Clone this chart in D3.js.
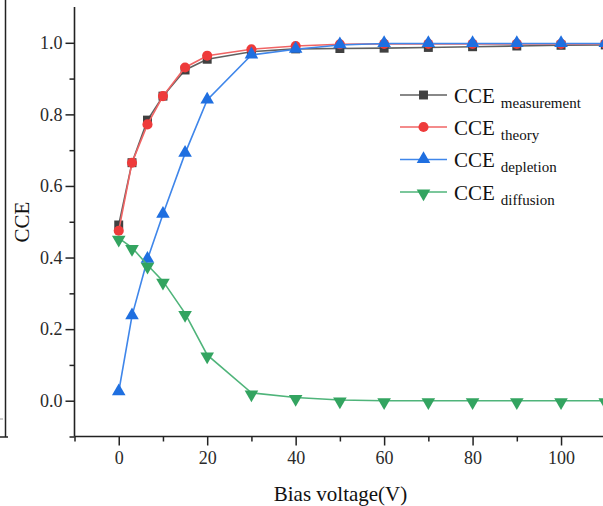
<!DOCTYPE html>
<html><head><meta charset="utf-8">
<script src="https://cdn.jsdelivr.net/npm/d3@7/dist/d3.min.js"></script>
<style>
html,body{margin:0;padding:0;background:#fff;}
svg{display:block;font-family:"Liberation Serif","Times New Roman",serif;}
</style></head>
<body><svg id="c" width="603" height="506"></svg>
<script>
const voltage = [0, 3, 6.5, 10, 15, 20, 30, 40, 50, 60, 70, 80, 90, 100, 110];
const cceMeasurement = [0.491, 0.665, 0.784, 0.851, 0.924, 0.954, 0.975, 0.983, 0.984, 0.985, 0.987, 0.989, 0.991, 0.993, 0.994];
const cceTheory      = [0.475, 0.665, 0.772, 0.851, 0.931, 0.964, 0.982, 0.991, 0.996, 0.997, 0.997, 0.997, 0.997, 0.997, 0.997];
const cceDepletion   = [0.025, 0.237, 0.395, 0.521, 0.691, 0.840, 0.966, 0.982, 0.994, 0.998, 0.998, 0.998, 0.998, 0.998, 0.998];
const cceDiffusion   = [0.454, 0.428, 0.379, 0.334, 0.244, 0.128, 0.022, 0.009, 0.002, 0.0, 0.0, 0.0, 0.0, 0.0, 0.0];
const seriesNames = ["measurement", "theory", "depletion", "diffusion"];
const yTickLabels = ["0.0", "0.2", "0.4", "0.6", "0.8", "1.0"];
const xTickLabels = ["0", "20", "40", "60", "80", "100"];

const svg = d3.select("#c");
const x = d3.scaleLinear().domain([-10, 120]).range([74.5, 649.5]);
const y = d3.scaleLinear().domain([-0.1, 1.1]).range([436.5, 7]);

const styles = [
  {line:"#606060", fill:"#404040", sym:d3.symbolSquare, size:80, rot:0},
  {line:"#f06464", fill:"#ee3b3b", sym:d3.symbolCircle, size:80, rot:0},
  {line:"#3f86ea", fill:"#1f6fe0", sym:d3.symbolTriangle, size:80, rot:0},
  {line:"#4fb47a", fill:"#33a460", sym:d3.symbolTriangle, size:80, rot:180}
];
const allSeries = [cceMeasurement, cceTheory, cceDepletion, cceDiffusion];

// partial left panel edge
svg.append("line").attr("x1",5.5).attr("x2",5.5).attr("y1",0).attr("y2",437).attr("stroke","#222").attr("stroke-width",1.5);
svg.append("line").attr("x1",0).attr("x2",8).attr("y1",437).attr("y2",437).attr("stroke","#222").attr("stroke-width",1.5);
svg.append("line").attr("x1",0).attr("x2",3).attr("y1",419).attr("y2",419).attr("stroke","#999").attr("stroke-width",1);

svg.append("defs").append("clipPath").attr("id","pc")
  .append("rect").attr("x",60).attr("y",0).attr("width",600).attr("height",445);

const g = svg.append("g").attr("clip-path","url(#pc)");
allSeries.forEach((vals, i) => {
  const st = styles[i];
  const pts = voltage.map((v, j) => [v, vals[j]]);
  g.append("path").attr("d", d3.line().x(d=>x(d[0])).y(d=>y(d[1]))(pts))
    .attr("fill","none").attr("stroke",st.line).attr("stroke-width",1.6);
  g.selectAll(null).data(pts).enter().append("path")
    .attr("d", d3.symbol().type(st.sym).size(st.size)())
    .attr("transform", d => `translate(${x(d[0])},${y(d[1]) + (st.rot ? 1.5 : (st.sym===d3.symbolTriangle? -0.5:0))}) rotate(${st.rot})`)
    .attr("fill", st.fill);
});

// axes
const yMajor = [0, 0.2, 0.4, 0.6, 0.8, 1.0];
const yMinor = [-0.1, 0.1, 0.3, 0.5, 0.7, 0.9];
const yAx = svg.append("g").attr("transform","translate(74.5,0)")
  .call(d3.axisLeft(y).tickValues(yMajor).tickFormat((d,i)=>yTickLabels[i]).tickSize(9).tickPadding(3));
svg.append("g").attr("transform","translate(74.5,0)")
  .call(d3.axisLeft(y).tickValues(yMinor).tickFormat("").tickSize(5)).select(".domain").remove();
const xMajor = [0, 20, 40, 60, 80, 100];
const xMinor = [-10, 10, 30, 50, 70, 90, 110];
const xAx = svg.append("g").attr("transform","translate(0,436.5)")
  .call(d3.axisBottom(x).tickValues(xMajor).tickFormat((d,i)=>xTickLabels[i]).tickSize(9).tickPadding(6));
svg.append("g").attr("transform","translate(0,436.5)")
  .call(d3.axisBottom(x).tickValues(xMinor).tickFormat("").tickSize(5)).select(".domain").remove();

svg.selectAll(".domain").attr("stroke","#222").attr("stroke-width",1.6);
svg.selectAll(".tick line").attr("stroke","#222").attr("stroke-width",1.5);
svg.selectAll(".tick text").attr("fill","#2a2a2a").attr("font-size","18px")
  .attr("font-family","'Liberation Serif','Times New Roman',serif");
yAx.select(".domain").attr("d","M-0,436.5V7");
xAx.select(".domain").attr("d","M74.5,0H649.5");

// axis titles
svg.append("text").attr("transform","translate(29,222) rotate(-90)").attr("text-anchor","middle")
  .attr("font-size","21px").attr("fill","#111").text("CCE");
svg.append("text").attr("x",340.5).attr("y",501).attr("text-anchor","middle")
  .attr("font-size","21px").attr("fill","#111").text("Bias voltage(V)");

// legend
const legRows = [95, 127, 159.5, 192];
seriesNames.forEach((nm, i) => {
  const st = styles[i];
  const ly = legRows[i];
  svg.append("line").attr("x1",400).attr("x2",447).attr("y1",ly).attr("y2",ly)
    .attr("stroke",st.line).attr("stroke-width",1.6);
  svg.append("path").attr("d", d3.symbol().type(st.sym).size(st.size)())
    .attr("transform", `translate(423.5,${ly + (st.rot?1.5:(st.sym===d3.symbolTriangle?-0.5:0))}) rotate(${st.rot})`)
    .attr("fill", st.fill);
  const t = svg.append("text").attr("x",454).attr("y",ly+7.5).attr("fill","#111");
  t.append("tspan").attr("font-size","21px").text("CCE");
  t.append("tspan").attr("font-size","15px").attr("dx",6).attr("dy",5).text(nm);
});
</script></body></html>
